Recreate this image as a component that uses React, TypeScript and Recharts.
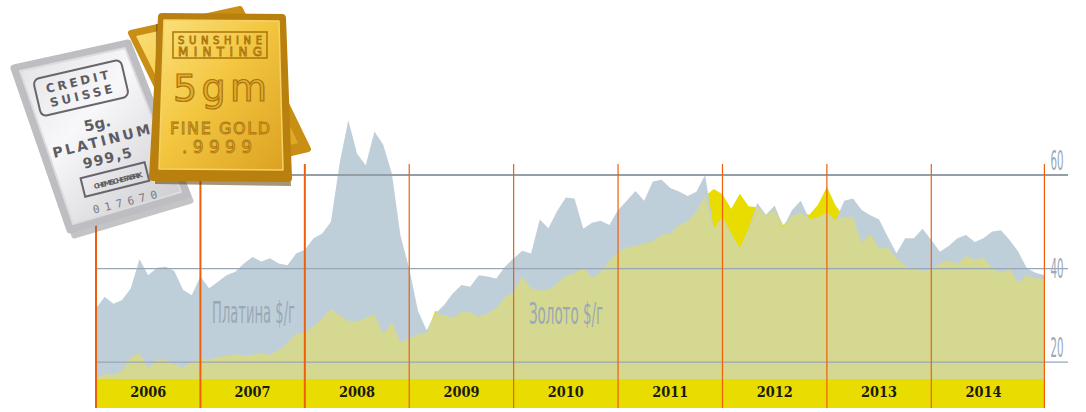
import React from 'react';
import { AreaChart, Area, XAxis, YAxis, ReferenceLine, ReferenceArea } from 'recharts';

// monthly prices, $ per gram
const platinum2006 = [31.5, 34.0, 32.5, 33.3, 35.8, 42.0, 38.6, 40.2, 40.4, 39.5, 35.5, 34.3];
const platinum2007 = [38.3, 35.8, 37.2, 38.6, 39.3, 41.1, 42.5, 41.5, 42.2, 41.1, 40.7, 43.2];
const platinum2008 = [44.0, 46.5, 47.5, 50.0, 62.5, 71.7, 64.6, 62.1, 69.3, 66.5, 60.4, 47.0];
const platinum2009 = [40.0, 31.0, 26.8, 30.4, 32.2, 34.7, 36.5, 36.1, 38.6, 38.3, 37.9, 40.4];
const platinum2010 = [42.2, 43.8, 43.2, 50.5, 48.6, 52.3, 55.2, 55.0, 48.5, 49.8, 50.2, 49.3];
const platinum2011 = [52.5, 54.5, 56.6, 54.5, 58.6, 59.0, 57.2, 56.5, 55.5, 56.4, 60.0, 48.5];
const platinum2012 = [51.0, 47.5, 44.3, 48.5, 54.0, 51.5, 53.5, 48.9, 52.5, 54.5, 50.5, 51.0];
const platinum2013 = [52.0, 50.2, 54.5, 55.0, 52.5, 51.4, 50.5, 46.8, 43.3, 46.5, 46.5, 48.5];
const platinum2014 = [46.1, 43.6, 44.8, 46.5, 47.2, 45.7, 46.5, 47.9, 48.2, 46.1, 43.6, 40.0];
const platinum2015 = [39.1, 38.6];

const gold2006 = [16.5, 17.5, 17.3, 18.2, 21.0, 22.0, 18.6, 20.5, 20.4, 19.5, 18.8, 20.0];
const gold2007 = [20.8, 20.5, 21.1, 21.3, 21.7, 21.5, 21.6, 22.0, 21.5, 22.6, 24.0, 26.3];
const gold2008 = [26.1, 27.8, 29.3, 31.3, 30.0, 28.8, 28.7, 29.5, 30.2, 26.0, 28.5, 24.3];
const gold2009 = [25.0, 26.0, 26.3, 31.0, 30.1, 29.5, 30.8, 30.6, 29.7, 30.4, 31.6, 33.8];
const gold2010 = [35.0, 38.3, 35.8, 35.3, 35.5, 36.8, 38.5, 39.0, 40.4, 38.0, 39.3, 41.5];
const gold2011 = [43.5, 44.5, 44.8, 45.4, 45.8, 47.2, 47.5, 49.3, 50.0, 52.2, 55.5, 57.0];
const gold2012 = [55.9, 52.8, 56.0, 53.3, 53.1, 51.3, 52.5, 49.3, 51.3, 52.0, 51.5, 53.7];
const gold2013 = [57.5, 53.5, 51.1, 51.0, 45.4, 47.4, 44.3, 44.5, 42.2, 40.6, 39.8, 39.5];
const gold2014 = [39.7, 41.1, 41.8, 41.0, 42.7, 41.8, 42.4, 40.0, 39.1, 39.8, 37.0, 38.5];
const gold2015 = [37.9, 37.9];

const years = [2006, 2007, 2008, 2009, 2010, 2011, 2012, 2013, 2014, 2015];
const platinumByYear = [platinum2006, platinum2007, platinum2008, platinum2009, platinum2010,
  platinum2011, platinum2012, platinum2013, platinum2014, platinum2015];
const goldByYear = [gold2006, gold2007, gold2008, gold2009, gold2010,
  gold2011, gold2012, gold2013, gold2014, gold2015];

const yearLabels = [2006, 2007, 2008, 2009, 2010, 2011, 2012, 2013, 2014];
const yTicks = [20, 40, 60];

const data = years.flatMap((year, i) =>
  platinumByYear[i].map((p, k) => {
    const g = goldByYear[i][k];
    return { t: year + k / 12, platinum: p, gold: g, both: Math.min(p, g) };
  })
);
const tEnd = data[data.length - 1].t;

const Y_MIN = 16.4;
const Y_MAX = 74;
const BAND_BOTTOM = 10.2;
const RULE_TOP = 62.35;
const GRID_END = 2015.31;

const ORANGE = '#ee5f0c';
const LABEL_GREY = '#99a8b7';
const condensed = "'Liberation Sans Narrow', 'DejaVu Sans Condensed', sans-serif";

const tickShift: Record<number, number> = { 60: -5, 40: 9, 20: -5 };

function PriceTick(props: any) {
  const { x, y, payload } = props;
  return (
    <text x={x} y={y + (tickShift[payload.value] ?? 0)} fill={LABEL_GREY} fontSize={27}
      fontFamily={condensed} textLength={13} lengthAdjust="spacingAndGlyphs" textAnchor="start">
      {payload.value}
    </text>
  );
}

function YearTick(props: any) {
  const { x, y, payload } = props;
  return (
    <text x={x} y={y + 18} textAnchor="middle" fill="#1c1a10" fontSize={14} fontWeight="bold"
      fontFamily="'DejaVu Serif', serif" textLength={36} lengthAdjust="spacingAndGlyphs">
      {Math.floor(payload.value)}
    </text>
  );
}

function Bullion() {
  const silverText = { fill: '#5c5c62', fontFamily: "'DejaVu Sans', sans-serif", fontWeight: 'bold' as const };
  const goldText = { fill: '#e2ad2c', stroke: '#a8740e', strokeWidth: 0.8, fontFamily: "'DejaVu Sans', sans-serif" };
  return (
    <g>
      <defs>
        <linearGradient id="goldFace" x1="0" y1="0" x2="1" y2="1">
          <stop offset="0" stopColor="#fbe07a" />
          <stop offset="0.45" stopColor="#f3c640" />
          <stop offset="1" stopColor="#dca221" />
        </linearGradient>
        <linearGradient id="silverFace" x1="0" y1="0" x2="1" y2="1">
          <stop offset="0" stopColor="#e2e2e5" />
          <stop offset="0.4" stopColor="#f8f8fa" />
          <stop offset="1" stopColor="#c8c8cc" />
        </linearGradient>
      </defs>
      {/* rear gold bar */}
      <polygon points="131,33 240,9 308,149 200,175" fill="#c98e14" stroke="#c98e14" strokeWidth={6} strokeLinejoin="round" />
      <polygon points="136,36 237,14 298,143 201,167" fill="url(#goldFace)" />
      {/* silver bar */}
      <polygon points="18,74 131,49 191,201 74,236" fill="#6e6e74" opacity={0.4} stroke="#6e6e74" strokeWidth={5} strokeLinejoin="round" />
      <polygon points="14,68 128,43 187,195 70,230" fill="#bdbdc2" stroke="#bdbdc2" strokeWidth={7} strokeLinejoin="round" />
      <polygon points="20,71 125,48 181,192 73,224" fill="url(#silverFace)" stroke="#dcdce0" strokeWidth={2} strokeLinejoin="round" />
      <rect x={36} y={69} width={90} height={38} rx={6} fill="none" stroke="#66666c" strokeWidth={2} transform="rotate(-13 81 88)" />
      <text x={77} y={86} textAnchor="middle" fontSize={12} textLength={64} transform="rotate(-13 77 81)" {...silverText}>CREDIT</text>
      <text x={81} y={100} textAnchor="middle" fontSize={12} textLength={64} transform="rotate(-13 81 95)" {...silverText}>SUISSE</text>
      <text x={97} y={129} textAnchor="middle" fontSize={15} transform="rotate(-13 97 123)" {...silverText}>5g.</text>
      <text x={101} y={146} textAnchor="middle" fontSize={14} textLength={100} transform="rotate(-14 101 140)" {...silverText}>PLATINUM</text>
      <text x={107} y={163} textAnchor="middle" fontSize={14} textLength={50} transform="rotate(-14 107 157)" {...silverText}>999,5</text>
      <rect x={82} y={170} width={66} height={19} fill="none" stroke="#66666c" strokeWidth={2} transform="rotate(-14 115 180)" />
      <text x={118} y={183} textAnchor="middle" fontSize={7} textLength={50} transform="rotate(-14 118 180)" {...silverText}>CHEMISCHE FABRIK</text>
      <text x={125} y={206} textAnchor="middle" fontSize={11} textLength={66} transform="rotate(-14 125 202)" fill="#7a7a80" fontFamily="'DejaVu Sans Mono', monospace">017670</text>
      {/* front gold bar */}
      <polygon points="156,24 284,24 291,186 155,184" fill="#5b3f0a" opacity={0.55} />
      <polygon points="162,17 282,18 288,178 153,177" fill="#b9800e" stroke="#b9800e" strokeWidth={8} strokeLinejoin="round" />
      <polygon points="164,20 279,21 283,170 159,169" fill="url(#goldFace)" stroke="#f6d266" strokeWidth={1.5} strokeLinejoin="round" />
      <rect x={173} y={32} width={94} height={26} fill="none" stroke="#a8740e" strokeWidth={1.5} />
      <text x={220} y={44} textAnchor="middle" fontSize={10} textLength={84} {...goldText}>SUNSHINE</text>
      <text x={220} y={56} textAnchor="middle" fontSize={12} textLength={84} {...goldText}>MINTING</text>
      <text x={220} y={101} textAnchor="middle" fontSize={38} textLength={94} {...goldText} strokeWidth={1.2}>5gm</text>
      <text x={220} y={134} textAnchor="middle" fontSize={16} textLength={100} {...goldText}>FINE GOLD</text>
      <text x={217} y={153} textAnchor="middle" fontSize={17} textLength={70} {...goldText}>.9999</text>
    </g>
  );
}

export default function App() {
  return (
    <div style={{ position: 'absolute', left: 0, top: 0, width: 1086, height: 412, background: '#fff' }}>
      <AreaChart width={1086} height={412} data={data}
        margin={{ top: 109.5, right: 0, bottom: 0, left: 96 }}>
        <ReferenceArea x1={2006} x2={tEnd} y1={BAND_BOTTOM} y2={Y_MIN} ifOverflow="visible"
          fill="#e8dc00" fillOpacity={1} stroke="none" />
        <Area type="linear" dataKey="gold" fill="#e8dc00" fillOpacity={1} stroke="none"
          isAnimationActive={false} dot={false} activeDot={false} />
        <Area type="linear" dataKey="platinum" fill="#bfcfd9" fillOpacity={1} stroke="none"
          isAnimationActive={false} dot={false} activeDot={false} />
        <Area type="linear" dataKey="both" fill="#d5d890" fillOpacity={1} stroke="none"
          isAnimationActive={false} dot={false} activeDot={false} />
        {yTicks.map((v) => (
          <ReferenceLine key={v} segment={[{ x: 2006, y: v }, { x: GRID_END, y: v }]} ifOverflow="visible"
            stroke={v === 60 ? '#939ea7' : '#98a7b6'} strokeWidth={v === 60 ? 2 : 1.2} />
        ))}
        {[...yearLabels, tEnd].map((yr, i) => (
          <ReferenceLine key={yr} segment={[{ x: yr, y: RULE_TOP }, { x: yr, y: BAND_BOTTOM }]} ifOverflow="visible"
            stroke={ORANGE} strokeWidth={i < 3 ? 2 : 1.2} />
        ))}
        <XAxis dataKey="t" type="number" domain={[2006, tEnd]} allowDataOverflow
          ticks={yearLabels.map((y) => y + 0.5)} height={33} tickLine={false} axisLine={false}
          tickSize={0} tickMargin={0} tick={<YearTick />} interval={0} />
        <YAxis orientation="right" type="number" domain={[Y_MIN, Y_MAX]} allowDataOverflow
          ticks={yTicks} width={41.6} tickLine={false} axisLine={false} tickSize={0} tickMargin={6}
          tick={<PriceTick />} interval={0} />
      </AreaChart>
      <svg width={1086} height={412} style={{ position: 'absolute', left: 0, top: 0, pointerEvents: 'none' }}>
        <Bullion />
        <text x={212} y={323} fill={LABEL_GREY} fontSize={31} fontFamily={condensed}
          textLength={83} lengthAdjust="spacingAndGlyphs">Платина $/г</text>
        <text x={529} y={324} fill={LABEL_GREY} fontSize={31} fontFamily={condensed}
          textLength={74} lengthAdjust="spacingAndGlyphs">Золото $/г</text>
      </svg>
    </div>
  );
}
